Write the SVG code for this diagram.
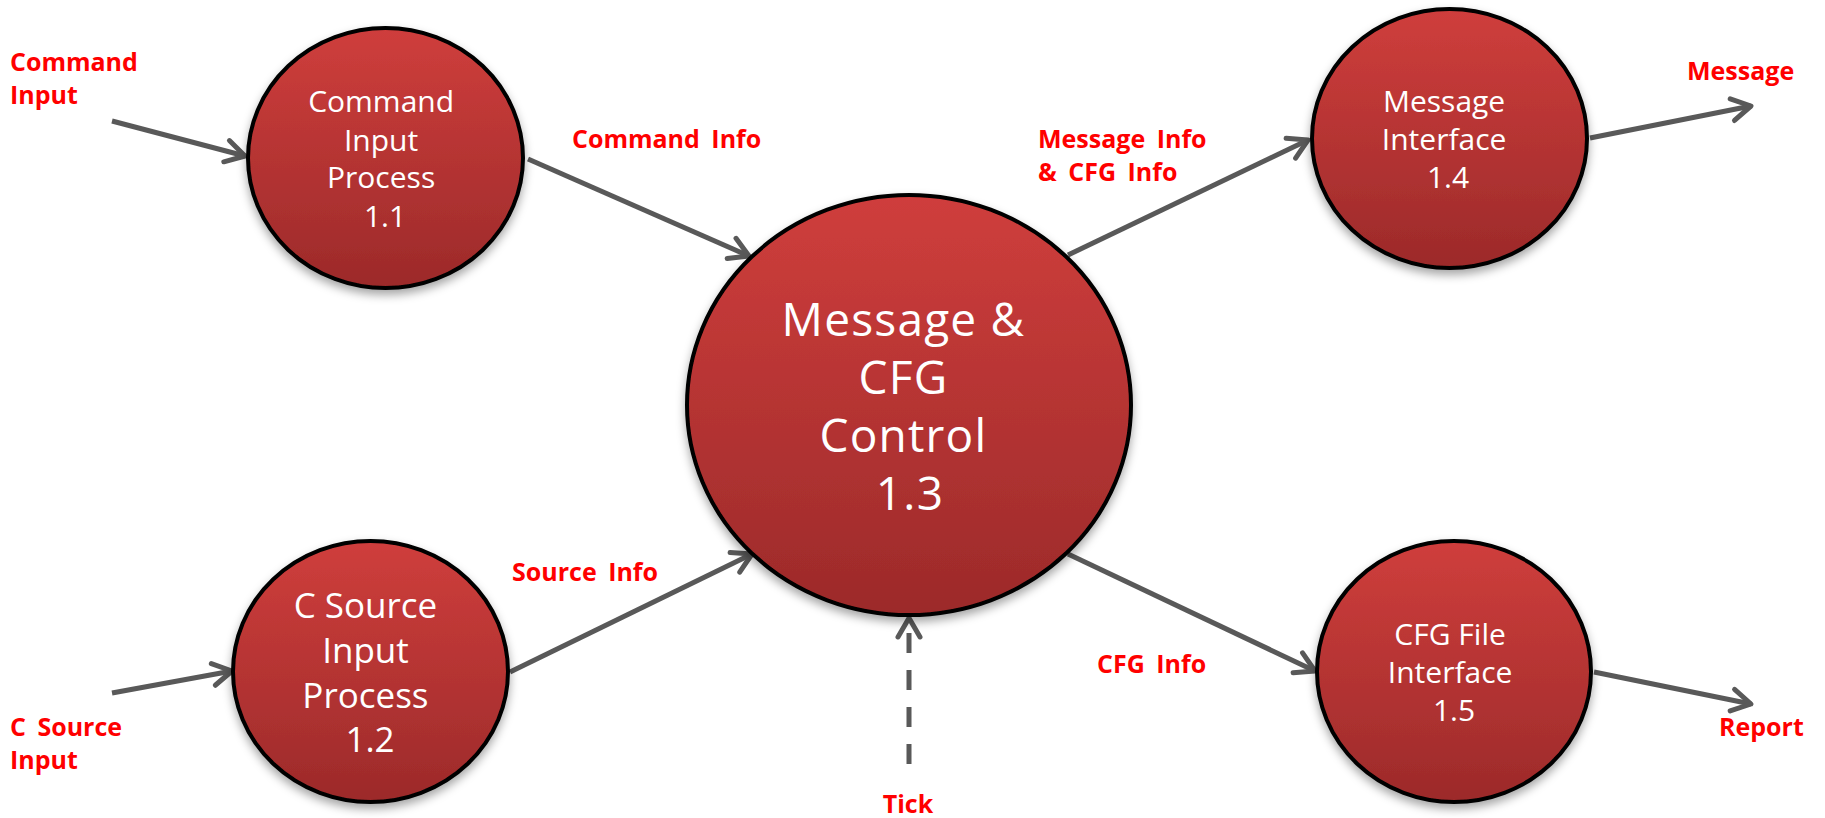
<svg xmlns="http://www.w3.org/2000/svg" width="1825" height="818" viewBox="0 0 1825 818">
  <style>
    .proc { fill: url(#procFill); stroke: #000; stroke-width: 4; filter: url(#shade); }
    .ptxt { font-family: "Open Sans", "Noto Sans", sans-serif; fill: #fff; text-anchor: middle; }
    .big { font-size: 46px; letter-spacing: 1.2px; }
    .lbl { font-family: "Open Sans", "Noto Sans", sans-serif; font-weight: bold; font-size: 25px; fill: #ff0000; word-spacing: 5px; }
    .flow { stroke: #595959; stroke-width: 5; fill: none; marker-end: url(#head); }
    .dash { stroke-dasharray: 20 17; }
  </style>
  <defs>
    <linearGradient id="procFill" x1="0" y1="0" x2="0" y2="1">
      <stop offset="0" stop-color="#cf3e3c"/>
      <stop offset="1" stop-color="#9c2a2a"/>
    </linearGradient>
    <filter id="shade" x="-10%" y="-10%" width="120%" height="125%">
      <feDropShadow dx="0" dy="5" stdDeviation="5" flood-color="#000" flood-opacity="0.35"/>
    </filter>
    <marker id="head" markerUnits="userSpaceOnUse" markerWidth="40" markerHeight="40" viewBox="-30 -20 40 40" refX="0" refY="0" orient="auto">
      <path d="M-19,-11 L0,0 L-19,11" fill="none" stroke="#595959" stroke-width="5" stroke-linecap="round" stroke-linejoin="round"/>
    </marker>
  </defs>

  <rect width="1825" height="818" fill="#fff"/>

  <!-- data flows -->
  <g id="connectors">
    <line class="flow" x1="112" y1="121" x2="245" y2="156"/>
    <line class="flow" x1="528" y1="159" x2="749" y2="256"/>
    <line class="flow" x1="112" y1="693" x2="232" y2="671"/>
    <line class="flow" x1="510" y1="672" x2="752" y2="554"/>
    <line class="flow" x1="1068" y1="255" x2="1308" y2="140"/>
    <line class="flow" x1="1590" y1="138" x2="1751" y2="106"/>
    <line class="flow" x1="1068" y1="554" x2="1315" y2="671"/>
    <line class="flow" x1="1594" y1="672" x2="1751" y2="704"/>
    <line class="flow dash" x1="909" y1="764" x2="909" y2="618"/>
  </g>

  <!-- processes -->
  <g id="p11">
    <ellipse class="proc" cx="385.5" cy="158" rx="137.5" ry="130"/>
    <text class="ptxt" font-size="30" x="385">
      <tspan x="385" y="112">Command</tspan>
      <tspan x="385" y="150.5">Input</tspan>
      <tspan x="385" y="188">Process</tspan>
      <tspan x="385" y="226.5">1.1</tspan>
    </text>
  </g>

  <g id="p12">
    <ellipse class="proc" cx="370.5" cy="671.5" rx="137.5" ry="130.5"/>
    <text class="ptxt" font-size="35" x="370">
      <tspan x="370" y="618">C Source</tspan>
      <tspan x="370" y="663">Input</tspan>
      <tspan x="370" y="708">Process</tspan>
      <tspan x="370" y="752">1.2</tspan>
    </text>
  </g>

  <g id="p13">
    <ellipse class="proc" cx="909" cy="405" rx="222" ry="210"/>
    <text class="ptxt big" x="910">
      <tspan x="910" y="336">Message &amp;</tspan>
      <tspan x="910" y="394">CFG</tspan>
      <tspan x="910" y="452">Control</tspan>
      <tspan x="910" y="510">1.3</tspan>
    </text>
  </g>

  <g id="p14">
    <ellipse class="proc" cx="1449.5" cy="138.5" rx="137.5" ry="129.5"/>
    <text class="ptxt" font-size="30" x="1448">
      <tspan x="1448" y="112">Message</tspan>
      <tspan x="1448" y="150">Interface</tspan>
      <tspan x="1448" y="188">1.4</tspan>
    </text>
  </g>

  <g id="p15">
    <ellipse class="proc" cx="1454" cy="671.5" rx="137" ry="130.5"/>
    <text class="ptxt" font-size="30" x="1454">
      <tspan x="1454" y="645">CFG File</tspan>
      <tspan x="1454" y="683">Interface</tspan>
      <tspan x="1454" y="721">1.5</tspan>
    </text>
  </g>

  <!-- flow labels -->
  <g id="labels">
    <text class="lbl" x="10" y="71">Command</text>
    <text class="lbl" x="10" y="104">Input</text>
    <text class="lbl" x="572" y="148">Command Info</text>
    <text class="lbl" x="1038" y="148">Message Info</text>
    <text class="lbl" x="1038" y="181">&amp; CFG Info</text>
    <text class="lbl" x="1687" y="80">Message</text>
    <text class="lbl" x="512" y="581">Source Info</text>
    <text class="lbl" x="10" y="736">C Source</text>
    <text class="lbl" x="10" y="769">Input</text>
    <text class="lbl" x="1097" y="673">CFG Info</text>
    <text class="lbl" x="1719" y="736">Report</text>
    <text class="lbl" x="908" y="813" text-anchor="middle">Tick</text>
  </g>
</svg>
